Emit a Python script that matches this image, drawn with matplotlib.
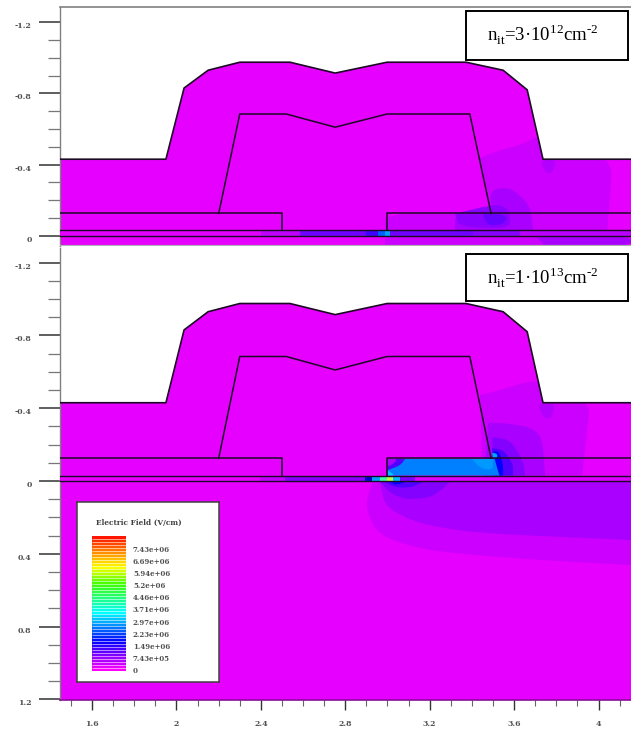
import matplotlib
matplotlib.use("Agg")
import matplotlib.pyplot as plt
import numpy as np
from matplotlib.colors import LinearSegmentedColormap
from matplotlib.patches import PathPatch, Polygon
from matplotlib.path import Path
from matplotlib.transforms import ScaledTranslation

plt.rcParams['font.family'] = ['DejaVu Serif']
plt.rcParams['mathtext.fontset'] = 'custom'
plt.rcParams['mathtext.rm'] = 'Liberation Serif'

MAGENTA = '#e600ff'
LINE = '#1c0a24'

# device outline (um)
outer_x = [1.448, 1.95, 2.036, 2.15, 2.30, 2.538, 2.752, 2.998, 3.372, 3.548, 3.662, 3.737, 4.154]
outer_y = [-0.43, -0.43, -0.83, -0.93, -0.975, -0.975, -0.914, -0.975, -0.975, -0.93, -0.82, -0.43, -0.43]
gate_x = [2.20, 2.30, 2.52, 2.752, 2.998, 3.39, 3.491]
gate_y = [-0.125, -0.684, -0.684, -0.61, -0.684, -0.684, -0.125]
spacer_left_x = [1.448, 2.5, 2.5]
spacer_left_y = [-0.125, -0.125, -0.03]
spacer_right_x = [3.0, 3.0, 4.154]
spacer_right_y = [-0.03, -0.125, -0.125]
oxide_y = -0.03

# field contours, top panel (a repeated point keeps that corner sharp)
top_regions = [
    ('#cc00ff', [3.435, 3.435, 3.534, 3.628, 3.70, 3.80, 4.064, 4.055, 4.041, 4.041, 2.989, 2.989, 2.989, 3.491, 3.491],
                [-0.436, -0.436, -0.481, -0.51, -0.549, -0.60, -0.425, -0.217, -0.03, -0.03, -0.03, -0.03, -0.125, -0.125, -0.125]),
    ('#aa00ff', [3.486, 3.581, 3.676, 3.69, 3.69, 3.32, 3.32, 3.32, 3.491, 3.491],
                [-0.257, -0.274, -0.172, -0.03, -0.03, -0.03, -0.03, -0.125, -0.125, -0.125]),
    ('#b400ff', [3.723, 3.804, 3.78, 3.75],
                [-0.425, -0.425, -0.352, -0.352]),
    ('#8c00ff', [3.32, 3.32, 3.484, 3.55, 3.58, 3.58, 3.34],
                [-0.125, -0.125, -0.17, -0.17, -0.125, -0.04, -0.05]),
    ('#6a00ff', [3.453, 3.453, 3.53, 3.57, 3.54, 3.47],
                [-0.125, -0.125, -0.125, -0.10, -0.06, -0.06]),
    # silicon just under the interface
    ('#cc00ff', [2.989, 2.989, 4.154, 4.154, 2.989, 2.989],
                [0, 0, 0, 0.06, 0.06, 0.06]),
    ('#aa00ff', [3.70, 3.70, 4.154, 4.154, 3.75, 3.75],
                [0, 0, 0, 0.06, 0.06, 0.06]),
]
top_strip_edges = [1.448, 2.4, 2.586, 2.9, 2.955, 2.989, 3.012, 3.406, 3.628, 4.154]
top_strip_colors = ['#e400ff', '#c000ff', '#7000ff', '#4000ff', '#0060ff', '#00a0ff', '#7000ff', '#8800ff', '#bb00ff']

# field contours, bottom panel
bottom_regions = [
    ('#cc00ff', [3.439, 3.439, 3.534, 3.69, 3.761, 3.96, 3.946, 3.922, 3.922, 3.45, 3.45],
                [-0.473, -0.473, -0.5, -0.555, -0.516, -0.429, -0.28, -0.03, -0.03, -0.03, -0.03]),
    ('#aa00ff', [3.477, 3.477, 3.548, 3.676, 3.733, 3.747, 3.747, 3.46, 3.46],
                [-0.319, -0.319, -0.319, -0.297, -0.242, -0.03, -0.03, -0.03, -0.03]),
    ('#b400ff', [3.709, 3.794, 3.78, 3.74],
                [-0.429, -0.429, -0.346, -0.346]),
    ('#8400ff', [3.496, 3.496, 3.581, 3.642, 3.652, 3.652, 3.5, 3.5],
                [-0.242, -0.242, -0.225, -0.115, -0.03, -0.03, -0.03, -0.03]),
    ('#5000ff', [3.496, 3.496, 3.548, 3.595, 3.595, 3.595, 3.5, 3.5],
                [-0.181, -0.181, -0.17, -0.099, -0.03, -0.03, -0.03, -0.03]),
    # silicon below the interface
    ('#cc00ff', [2.927, 2.927, 2.894, 2.955, 3.169, 3.567, 4.154, 4.154, 4.154, 4.154],
                [0.005, 0.005, 0.143, 0.297, 0.379, 0.423, 0.462, 0.462, 0.005, 0.005]),
    ('#aa00ff', [2.965, 2.965, 2.989, 3.14, 3.406, 4.154, 4.154, 4.154, 4.154],
                [0.005, 0.005, 0.143, 0.231, 0.286, 0.324, 0.324, 0.005, 0.005]),
    ('#8400ff', [2.965, 2.965, 3.012, 3.093, 3.216, 3.297, 3.297],
                [0.005, 0.005, 0.066, 0.104, 0.088, 0.005, 0.005]),
    ('#5000ff', [2.989, 2.989, 3.027, 3.107, 3.169, 3.169],
                [0.005, 0.005, 0.033, 0.038, 0.005, 0.005]),
    ('#0000ff', [3.012, 3.012, 3.04, 3.083, 3.083],
                [0.005, 0.005, 0.022, 0.005, 0.005]),
]
# drain-side oxide of the bottom panel
oxide_regions = [
    ('#0080ff', [3.0, 3.0, 3.534, 3.534, 3.534, 3.534, 3.0, 3.0],
                [-0.121, -0.121, -0.121, -0.121, -0.03, -0.03, -0.03, -0.03]),
    ('#0099ff', [3.40, 3.40, 3.50, 3.50, 3.50, 3.44],
                [-0.121, -0.121, -0.121, -0.121, -0.06, -0.07]),
    ('#5000ff', [3.0, 3.0, 3.083, 3.083, 3.06, 3.0, 3.0],
                [-0.121, -0.121, -0.121, -0.121, -0.085, -0.06, -0.06]),
    ('#aa00ff', [3.0, 3.0, 3.045, 3.03, 3.0, 3.0],
                [-0.121, -0.121, -0.121, -0.095, -0.08, -0.08]),
    ('#00c8ff', [3.0, 3.0, 3.035, 3.0, 3.0],
                [-0.06, -0.06, -0.03, -0.03, -0.03]),
    ('#0000ff', [3.496, 3.53, 3.548, 3.548, 3.548, 3.53, 3.53],
                [-0.17, -0.16, -0.09, -0.03, -0.03, -0.03, -0.03]),
    ('#00a8ff', [3.496, 3.496, 3.52, 3.52, 3.50, 3.50],
                [-0.155, -0.155, -0.15, -0.125, -0.125, -0.125]),
]
bottom_strip_edges = [1.448, 2.396, 2.515, 2.894, 2.927, 2.965, 3.0, 3.027, 3.06, 3.13, 4.154]
bottom_strip_colors = [MAGENTA, '#c400ff', '#8800ff', '#0000cc', '#00a0ff', '#40ffa0', '#c0ff40', '#00c0ff', '#8000ff', '#dd00ff']

top_labels = ['-1.2', '-0.8', '-0.4', '0']
top_ticks = [-1.2, -0.8, -0.4, 0]
bottom_labels = ['-1.2', '-0.8', '-0.4', '0', '0.4', '0.8', '1.2']
bottom_ticks = [-1.2, -0.8, -0.4, 0, 0.4, 0.8, 1.2]
x_ticks = [1.6, 2, 2.4, 2.8, 3.2, 3.6, 4]
x_labels = ['1.6', '2', '2.4', '2.8', '3.2', '3.6', '4']

legend_values = [7.43e6, 6.69e6, 5.94e6, 5.2e6, 4.46e6, 3.71e6, 2.97e6, 2.23e6, 1.49e6, 7.43e5, 0]
legend_labels = ['7.43e+06', '6.69e+06', '5.94e+06', '5.2e+06', '4.46e+06', '3.71e+06',
                 '2.97e+06', '2.23e+06', '1.49e+06', '7.43e+05', '0']
cmap_stops = [(0, '#ff00ff'), (1.75 / 8.27, '#0000ff'), (3.5 / 8.27, '#00ffff'),
              (5.26 / 8.27, '#40ff00'), (6.3 / 8.27, '#ffff00'), (1, '#ff0000')]


def rounded_path(rx, ry, t=0.4):
    # closed path with rounded corners; a repeated point stays a sharp corner
    pts = np.column_stack([rx, ry])
    n = len(pts)
    verts, codes = [], []
    for i in range(n):
        p, prev, nxt = pts[i], pts[i - 1], pts[(i + 1) % n]
        a = p + t * (prev - p)
        b = p + t * (nxt - p)
        if i == 0:
            verts.append(a)
            codes.append(Path.MOVETO)
        else:
            verts.append(a)
            codes.append(Path.LINETO)
        verts += [p, b]
        codes += [Path.CURVE3, Path.CURVE3]
    verts.append(verts[0])
    codes.append(Path.CLOSEPOLY)
    return Path(verts, codes)


def draw_panel(ax, regions, strip_edges, strip_colors, ylim, ticks, labels):
    ax.set_xlim(1.448, 4.154)
    ax.set_ylim(ylim[1], ylim[0])
    ax.set_facecolor('white')

    # nitride + everything under it
    xs = outer_x + [outer_x[-1], outer_x[0]]
    ys = outer_y + [ylim[1], ylim[1]]
    device = Polygon(np.column_stack([xs, ys]), closed=True, fc=MAGENTA, ec='none', zorder=1)
    ax.add_patch(device)

    for color, rx, ry in regions:
        p = PathPatch(rounded_path(rx, ry), fc=color, ec='none', lw=0, zorder=2)
        ax.add_patch(p)
        p.set_clip_path(device)

    for i, c in enumerate(strip_colors):
        ax.fill_between(strip_edges[i:i + 2], oxide_y, 0, color=c, lw=0, zorder=3)

    ax.plot(outer_x, outer_y, color=LINE, lw=1.2, zorder=5)
    ax.plot(gate_x, gate_y, color=LINE, lw=1.1, zorder=5)
    ax.plot(spacer_left_x, spacer_left_y, color=LINE, lw=1.1, zorder=5)
    ax.plot(spacer_right_x, spacer_right_y, color=LINE, lw=1.1, zorder=5)
    ax.axhline(oxide_y, color=LINE, lw=1.0, zorder=5)
    ax.axhline(0, color=LINE, lw=1.0, zorder=5)

    ax.set_yticks(ticks)
    ax.set_yticklabels(labels)
    ax.set_yticks(np.arange(ticks[0], ticks[-1], 0.1), minor=True)
    ax.tick_params(axis='y', which='major', length=15, width=1.1, color='#333333', pad=5.5,
                   labelsize=5.6, labelcolor='#505050')
    ax.tick_params(axis='y', which='minor', length=8.6, width=0.9, color='#777777')
    shift = ScaledTranslation(0, -3 / 100, ax.figure.dpi_scale_trans)
    for lab in ax.get_yticklabels():
        lab.set_fontweight('bold')
        lab.set_transform(lab.get_transform() + shift)

    for s in ax.spines.values():
        s.set_visible(False)
    ax.spines['left'].set_visible(True)
    ax.spines['left'].set_color('#808080')
    ax.spines['left'].set_linewidth(1.0)


fig = plt.figure(figsize=(6.31, 7.32), dpi=100)
W, H = 631.0, 732.0

ax_top = fig.add_axes([60 / W, (H - 245.7) / H, 571 / W, 239 / H], zorder=1)
draw_panel(ax_top, top_regions, top_strip_edges, top_strip_colors, (-1.287, 0.056),
           top_ticks, top_labels)
ax_top.set_xticks([])
ax_top.spines['top'].set_visible(True)
ax_top.spines['top'].set_color('#808080')
ax_top.spines['top'].set_linewidth(1.2)
ax_top.axhline(0.056, color='#b0b0b0', lw=1.6, zorder=6)

ax_bot = fig.add_axes([60 / W, (H - 700) / H, 571 / W, 452 / H], zorder=1)
draw_panel(ax_bot, bottom_regions + oxide_regions, bottom_strip_edges, bottom_strip_colors, (-1.28, 1.203),
           bottom_ticks, bottom_labels)
ax_bot.set_xticks(x_ticks)
ax_bot.set_xticklabels(x_labels, fontweight='bold')
ax_bot.set_xticks(np.arange(1.5, 4.15, 0.1), minor=True)
ax_bot.tick_params(axis='x', which='major', length=7.2, width=1.0, color='#333333', pad=7,
                   labelsize=5.6, labelcolor='#505050')
ax_bot.tick_params(axis='x', which='minor', length=4.3, width=0.8, color='#666666')
ax_bot.spines['bottom'].set_visible(True)
ax_bot.spines['bottom'].set_color('#8a0aa0')
ax_bot.spines['bottom'].set_linewidth(1.2)

# annotation boxes
box_texts = [r'n$_{\mathrm{it}}$=3·10$^{12}$cm$^{\text{-}2}$', r'n$_{\mathrm{it}}$=1·10$^{13}$cm$^{\text{-}2}$']
for (y0, h), txt in zip([(H - 59.5, 48.5), (H - 301, 47)], box_texts):
    fig.add_artist(plt.Rectangle((466 / W, y0 / H), 162 / W, h / H, transform=fig.transFigure,
                                 fc='white', ec='black', lw=1.4, zorder=8))
    fig.text(543 / W, (y0 + h / 2) / H, txt, ha='center', va='center', fontsize=13.5,
             family=['Liberation Serif'], color='black', zorder=9)

# colour legend
leg = fig.add_axes([77.3 / W, (H - 682) / H, 142 / W, 180.3 / H], zorder=5)
leg.set_xlim(77.3, 219.3)
leg.set_ylim(0, 1)
leg.set_xticks([])
leg.set_yticks([])
leg.set_facecolor('white')
for s in leg.spines.values():
    s.set_color('#404040')
    s.set_linewidth(1.1)

bar = fig.add_axes([92 / W, (H - 671) / H, 34 / W, 135 / H], zorder=6)
cmap = LinearSegmentedColormap.from_list('field', cmap_stops)
vmax = 8.27e6
levels = np.linspace(0, vmax, 46)
step = levels[1] - levels[0]
bar.barh(levels[:-1] + step / 2, 1, height=step, color=cmap(levels[:-1] / vmax), lw=0)
# pale separators between the colour levels
bar.hlines(levels[1:-1], 0, 1, color='white', lw=0.72, alpha=0.55)
bar.set_xlim(0, 1)
bar.set_ylim(0, vmax)
bar.axis('off')
for v, lab in zip(legend_values, legend_labels):
    bar.annotate(lab, xy=(1, v), xycoords=('axes fraction', 'data'), xytext=(5, 0),
                 textcoords='offset points', fontsize=5, fontweight='bold', color='#505050',
                 va='center', ha='left', annotation_clip=False)
leg.text(138.5, 0.885, 'Electric Field (V/cm)', ha='center', va='center', fontsize=5.3,
         fontweight='bold', color='#404040')

fig.savefig('out.png', dpi=100)
